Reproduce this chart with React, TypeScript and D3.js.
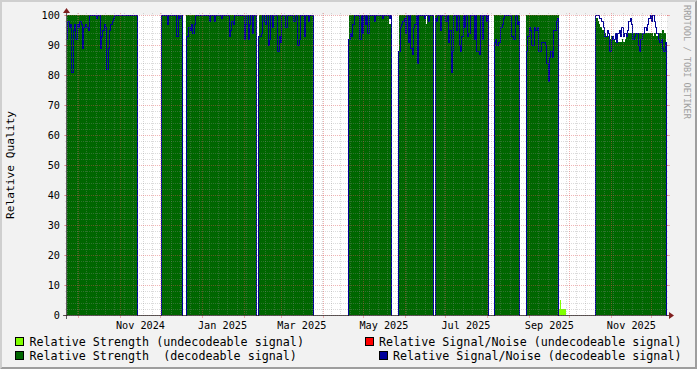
import React from "react";
import * as d3 from "d3";

// ---------------- data ----------------
const TIME_DOMAIN = ["2024-09-22T09:00:00", "2025-12-12T11:00:00"];
const Y_DOMAIN = [0, 100];
const Y_LABELS = [0, 10, 20, 30, 40, 50, 60, 70, 80, 90, 100];
const X_LABEL_MONTHS = ["2024-11-01", "2025-01-01", "2025-03-01", "2025-05-01", "2025-07-01", "2025-09-01", "2025-11-01"];

// start day of each block of decodeable data (daily samples)
const SEGMENT_STARTS = [
  "2024-09-22", "2024-12-02", "2024-12-20", "2025-02-12", "2025-04-20",
  "2025-05-27", "2025-06-23", "2025-08-06", "2025-08-30", "2025-10-20",
];

// Relative Strength (decodeable signal), per block, daily
const STRENGTH_DECODEABLE: number[][] = [
  [100,100,100,100,100,100,100,100,100,100,100,100,100,100,100,100,100,100,100,100,100,100,100,100,100,100,100,100,100,100,100,100,100,100,100,100,100,100,100,100,100,100,100,100,100,100,100,100,100,100,100,100,100],
  [100,100,100,100,100,100,100,100,100,100,100,100,100,100,100],
  [100,100,100,100,100,100,100,100,100,100,100,100,100,100,100,100,100,100,100,100,100,100,100,100,100,100,100,100,100,100,100,100,100,100,100,100,100,100,100,100,100,100,100,100,100,100,100,100,100,100,100,100],
  [100,100,100,100,100,100,100,100,100,100,100,100,100,100,100,100,100,100,100,100,100,100,100,100,100,100,100,100,100,100,100,100,100,100,100,100,100,100,100,100,100],
  [100,100,100,100,100,100,100,100,100,100,100,100,100,100,100,100,100,100,100,100,100,100,100,100,100,100,100,100,100,100,97,100],
  [100,100,100,100,100,100,100,100,100,100,100,100,100,100,100,100,100,100,100,100,97,100,100,100,100,100],
  [100,100,100,100,100,100,100,100,100,100,100,100,100,100,100,100,100,100,100,100,100,100,100,100,100,100,100,100,100,100,100,100,100,100,100,100,100,100,100,100],
  [100,100,100,100,100,100,100,100,100,100,100,100,100,100,100,100,100,100,100],
  [100,100,100,100,100,100,100,100,100,100,100,100,100,100,100,100,100,100,100,100,100,100,100,100],
  [100,99,98,97,96,95,95,94,93,93,92,92,93,92,92,91,92,91,91,91,92,91,92,93,94,94,94,94,94,94,94,94,94,94,94,94,94,94,94,94,94,94,94,93,94,93,93,94,94,94,95,94,94],
];

// Relative Signal/Noise (decodeable signal), per block, daily
const SN_DECODEABLE: number[][] = [
  [92,98,96,97,81,95,97,92,97,96,98,97,89,96,97,96,95,100,100,100,100,100,99,100,100,89,93,95,97,96,82,89,95,97,98,99,100,100,100,100,100,100,100,100,100,100,100,100,100,100,100,100,100],
  [100,100,100,100,97,100,100,100,100,100,100,93,100,99,100],
  [93,93,96,95,97,94,97,100,100,100,100,100,100,100,100,100,100,98,100,100,100,98,100,100,100,100,99,100,100,100,100,100,93,95,98,97,100,100,100,100,100,100,100,92,97,100,92,97,100,94,100,100],
  [93,93,94,100,98,97,100,90,92,100,96,100,100,100,88,93,91,100,100,100,96,100,100,100,100,100,98,100,100,90,92,100,100,100,93,100,100,98,100,100,100],
  [92,94,93,97,100,100,100,100,92,100,94,100,97,100,94,100,100,100,100,98,100,100,100,100,100,99,100,100,100,100,99,100],
  [88,96,97,98,99,94,100,91,100,89,87,96,97,100,84,100,100,100,100,99,100,100,98,100,100,100],
  [99,98,100,100,95,100,100,100,98,100,91,95,81,88,100,100,95,100,90,88,93,100,96,100,93,94,100,100,100,92,100,88,88,87,100,92,100,100,98,100],
  [91,92,90,91,91,96,97,99,100,100,100,100,100,93,92,92,100,97,98],
  [88,93,96,95,90,90,96,95,96,88,88,91,91,91,90,84,78,86,88,86,95,95,98,99],
  [100,100,100,99,99,98,96,93,93,95,94,88,92,93,92,94,91,94,95,93,96,93,94,93,95,98,99,97,92,93,94,94,90,88,92,94,94,96,95,97,99,100,98,100,98,96,94,92,91,92,89,88,91],
];

// Relative Strength (undecodeable signal)
const STRENGTH_UNDECODEABLE_START = "2025-09-23";
const STRENGTH_UNDECODEABLE = [2, 5, 2, 2, 2];
// Relative Signal/Noise (undecodeable signal): no visible samples
const SN_UNDECODEABLE_START = "2025-09-23";
const SN_UNDECODEABLE: number[] = [];

const Y_TITLE = "Relative Quality";
const WATERMARK = "RRDTOOL / TOBI OETIKER";
const LEGEND_LEFT = ["Relative Strength (undecodeable signal)", "Relative Strength  (decodeable signal)"];
const LEGEND_RIGHT = ["Relative Signal/Noise (undecodeable signal)", "Relative Signal/Noise (decodeable signal)"];

// ---------------- styles ----------------
const W = 697, H = 369;
const L = 67, R = 667, T = 15, B = 315;
const C_LIGHT = "#80ff00";
const C_DARK = "#006600";
const C_RED = "#ff0000";
const C_BLUE = "#000099";
const FONT = "'DejaVu Sans Mono', monospace";

type P = { t: Date; v: number };

const parseDay = d3.timeParse("%Y-%m-%d");
const parseDT = d3.timeParse("%Y-%m-%dT%H:%M:%S");

function toPoints(start: string, values: number[]): P[] {
  const s = parseDay(start)!;
  return values.map((v, i) => ({ t: d3.timeDay.offset(s, i), v }));
}

export default function App() {
  const x = d3.scaleTime().domain(TIME_DOMAIN.map((d) => parseDT(d)!)).range([L, R]);
  const y = d3.scaleLinear().domain(Y_DOMAIN).range([B, T]);
  const domainEnd = x.domain()[1];

  const area = d3
    .area<P>()
    .x((p) => x(p.t))
    .y0(B)
    .y1((p) => y(p.v))
    .curve(d3.curveStepAfter);
  const line = d3
    .line<P>()
    .x((p) => Math.floor(x(p.t)) + 0.5)
    .y((p) => Math.round(y(p.v)) + 0.5)
    .curve(d3.curveStepAfter);

  const withEnd = (pts: P[]) =>
    pts.length ? [...pts, { t: d3.timeDay.offset(pts[pts.length - 1].t, 1), v: pts[pts.length - 1].v }] : pts;

  const strengthAreas = SEGMENT_STARTS.map((s, i) => area(withEnd(toPoints(s, STRENGTH_DECODEABLE[i]))) || "");
  const snLines = SEGMENT_STARTS.map((s, i) => {
    const pts = withEnd(toPoints(s, SN_DECODEABLE[i]));
    const first = pts[0];
    const last = pts[pts.length - 1];
    const full: P[] = [{ t: first.t, v: 0 }, ...pts];
    if (last.t < domainEnd) full.push({ t: last.t, v: 0 });
    return line(full) || "";
  });
  const lightArea = area(withEnd(toPoints(STRENGTH_UNDECODEABLE_START, STRENGTH_UNDECODEABLE))) || "";
  const redLine = SN_UNDECODEABLE.length ? line(withEnd(toPoints(SN_UNDECODEABLE_START, SN_UNDECODEABLE))) || "" : "";

  // grid
  const minorY = d3.range(0, 101, 2).filter((v) => v % 10 !== 0);
  const majorY = Y_LABELS;
  const [d0, d1] = x.domain();
  const majorX = d3.timeMonth.range(d3.timeMonth.ceil(d0), d1);
  const minorX = d3.timeMonday.range(d3.timeMonday.ceil(d0), d1).filter((d) => d.getDate() !== 1);

  const snap = (v: number) => Math.round(v) + 0.5;
  const snapX = (v: number) => Math.floor(v) + 0.5;
  const gridMinor = "rgba(143,143,143,0.32)";
  const gridMajor = "rgba(222,79,79,0.42)";

  const legendY = [341, 355];
  const charW = 11.7 * 0.602;

  return (
    <svg width={W} height={H} style={{ position: "fixed", left: 0, top: 0 }} xmlns="http://www.w3.org/2000/svg">
      <rect x={0} y={0} width={W} height={H} fill="#f2f2f2" />
      {/* 3d border */}
      <path d={`M0,${H} L2,${H - 2} L2,2 L${W - 2},2 L${W},0 L0,0 Z`} fill="#cfcfcf" />
      <path d={`M2,${H - 2} L${W - 2},${H - 2} L${W - 2},2 L${W},0 L${W},${H} L0,${H} Z`} fill="#9e9e9e" />
      {/* plot canvas */}
      <rect x={L} y={T} width={R - L} height={B - T} fill="#ffffff" />
      <defs>
        <clipPath id="plotclip">
          <rect x={L} y={T} width={R - L} height={B - T + 1} />
        </clipPath>
      </defs>
      <g clipPath="url(#plotclip)">
        {strengthAreas.map((d, i) => (
          <path key={"a" + i} d={d} fill={C_DARK} shapeRendering="crispEdges" />
        ))}
        <path d={lightArea} fill={C_LIGHT} shapeRendering="crispEdges" />
        {snLines.map((d, i) => (
          <path key={"l" + i} d={d} fill="none" stroke={C_BLUE} strokeWidth={1} shapeRendering="crispEdges" />
        ))}
        {redLine && <path d={redLine} fill="none" stroke={C_RED} strokeWidth={1} />}
      </g>
      {/* grid */}
      <g shapeRendering="crispEdges">
        {minorY.map((v) => (
          <g key={"my" + v}>
            <line x1={L - 2} x2={R + 2} y1={snap(y(v))} y2={snap(y(v))} stroke={gridMinor} strokeDasharray="1 1" />
          </g>
        ))}
        {minorX.map((d, i) => (
          <g key={"mx" + i}>
            <line x1={snapX(x(d))} x2={snapX(x(d))} y1={T - 2} y2={B + 2} stroke={gridMinor} strokeDasharray="1 1" />
          </g>
        ))}
        {majorY.map((v) => (
          <g key={"My" + v}>
            <line x1={L - 2} x2={R + 2} y1={snap(y(v))} y2={snap(y(v))} stroke={gridMajor} strokeDasharray="1 1" />
            <line x1={L - 3} x2={L} y1={snap(y(v))} y2={snap(y(v))} stroke={gridMajor} />
            <line x1={R} x2={R + 3} y1={snap(y(v))} y2={snap(y(v))} stroke={gridMajor} />
          </g>
        ))}
        {majorX.map((d, i) => (
          <g key={"Mx" + i}>
            <line x1={snapX(x(d))} x2={snapX(x(d))} y1={T - 2} y2={B} stroke={gridMajor} strokeDasharray="1 1" />
            <line x1={snapX(x(d))} x2={snapX(x(d))} y1={B} y2={B + 3} stroke={gridMajor} />
          </g>
        ))}
        {/* axes */}
        <line x1={L - 4} x2={R + 4} y1={B + 0.5} y2={B + 0.5} stroke="#1f1f1f" strokeOpacity={0.7} />
        <line x1={L - 0.5} x2={L - 0.5} y1={B + 4} y2={T - 4} stroke="#1f1f1f" strokeOpacity={0.7} />
      </g>
      <path d={`M${R + 2},${B - 3} L${R + 2},${B + 4} L${R + 7},${B + 0.5} Z`} fill="#801f1f" />
      <path d={`M${L - 4},${T - 2} L${L + 3},${T - 2} L${L - 0.5},${T - 7} Z`} fill="#801f1f" />

      {/* y labels */}
      {Y_LABELS.map((v) => (
        <text key={"yl" + v} x={60} y={y(v) + 3.5} textAnchor="end" fontFamily={FONT} fontSize={10.2} fill="#000">
          {v}
        </text>
      ))}
      {/* x labels */}
      {X_LABEL_MONTHS.map((m) => {
        const d = parseDay(m)!;
        const c = x(d3.timeDay.offset(d, 15));
        return (
          <text key={m} x={c} y={328.5} textAnchor="middle" fontFamily={FONT} fontSize={10.2} fill="#000">
            {d3.timeFormat("%b %Y")(d)}
          </text>
        );
      })}
      {/* y title */}
      <text transform={`translate(14,${(T + B) / 2}) rotate(-90)`} textAnchor="middle" fontFamily={FONT} fontSize={11.2} fill="#000">
        {Y_TITLE}
      </text>
      {/* watermark */}
      <text transform={`translate(684,5) rotate(90)`} fontFamily={FONT} fontSize={8.6} fill="#a0a0a0">
        {WATERMARK}
      </text>
      {/* legend */}
      {LEGEND_LEFT.map((t, i) => (
        <g key={"ll" + i}>
          <rect x={15.5} y={legendY[i] - 3.5} width={8} height={8} fill={i === 0 ? C_LIGHT : C_DARK} stroke="#000" strokeWidth={1} />
          <text x={29.5} y={legendY[i] + 4.5} fontFamily={FONT} fontSize={11.7} fill="#000" style={{ whiteSpace: "pre" }}>
            {t}
          </text>
        </g>
      ))}
      {LEGEND_RIGHT.map((t, i) => {
        const end = 681.5;
        const start = end - t.length * charW;
        return (
          <g key={"lr" + i}>
            <rect x={Math.round(start - 14) + 0.5} y={legendY[i] - 3.5} width={8} height={8} fill={i === 0 ? C_RED : C_BLUE} stroke="#000" strokeWidth={1} />
            <text x={end} y={legendY[i] + 4.5} textAnchor="end" fontFamily={FONT} fontSize={11.7} fill="#000" style={{ whiteSpace: "pre" }}>
              {t}
            </text>
          </g>
        );
      })}
    </svg>
  );
}
